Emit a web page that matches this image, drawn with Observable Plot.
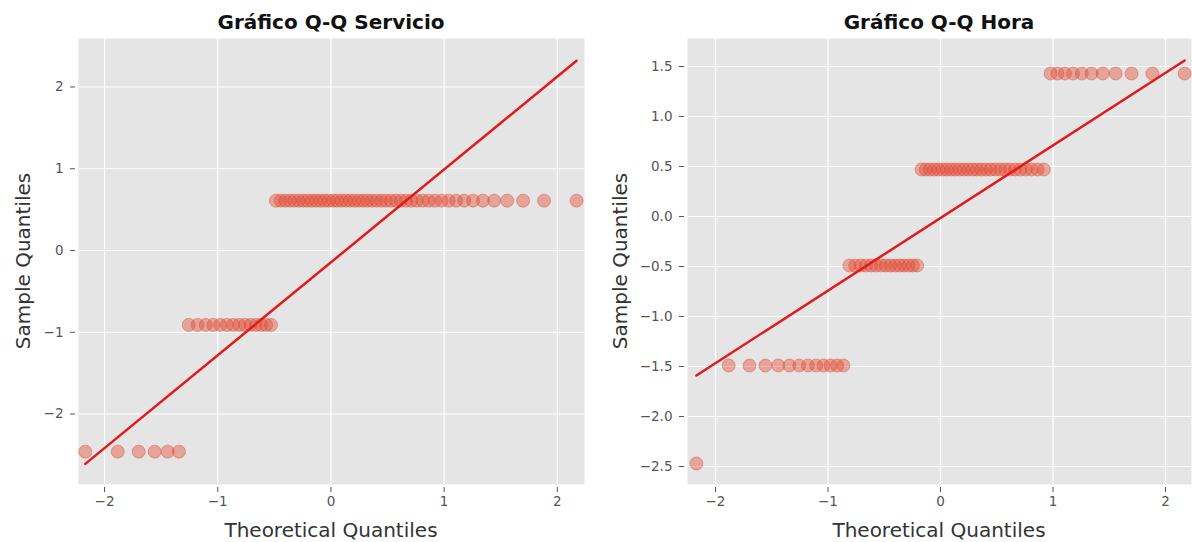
<!DOCTYPE html>
<html>
<head>
<meta charset="utf-8">
<script src="https://cdn.jsdelivr.net/npm/d3@7"></script>
<script src="https://cdn.jsdelivr.net/npm/@observablehq/plot@0.6"></script>
<style>
  body { margin: 0; background: #fff; font-family: "DejaVu Sans", sans-serif; }
  #wrap { position: relative; width: 1192px; height: 542px; display: flex; }
  .panel { position: relative; width: 596px; height: 542px; }
  .panel svg { display: block; }
  .title { position: absolute; top: 10px; line-height: 24px; font-weight: bold; font-size: 20px; color: #111; transform: translateX(-50%); white-space: nowrap; }
  .xlab { position: absolute; top: 518px; line-height: 24px; font-size: 20px; color: #333; transform: translateX(-50%); white-space: nowrap; }
  .ylab { position: absolute; line-height: 24px; font-size: 20px; color: #333; white-space: nowrap; transform: translate(-50%, -50%) rotate(-90deg); }
</style>
</head>
<body>
<div id="wrap">
  <div class="panel" id="p1">
    <div class="title" style="left:331px">Gráfico Q-Q Servicio</div>
    <div class="xlab" style="left:331px">Theoretical Quantiles</div>
    <div class="ylab" style="left:23px; top:261px">Sample Quantiles</div>
  </div>
  <div class="panel" id="p2">
    <div class="title" style="left:343px">Gráfico Q-Q Hora</div>
    <div class="xlab" style="left:343px">Theoretical Quantiles</div>
    <div class="ylab" style="left:24px; top:261px">Sample Quantiles</div>
  </div>
</div>
<script>
// Theoretical quantiles (66 points)
const theoretical = [
  -2.170, -1.883, -1.698, -1.557, -1.442, -1.343, -1.256, -1.178, -1.106, -1.040, -0.978,
  -0.919, -0.863, -0.810, -0.759, -0.710, -0.663, -0.617, -0.573, -0.529, -0.486, -0.445,
  -0.404, -0.363, -0.324, -0.285, -0.246, -0.207, -0.169, -0.131, -0.094, -0.056, -0.019,
   0.019,  0.056,  0.094,  0.131,  0.169,  0.207,  0.246,  0.285,  0.324,  0.363,  0.404,
   0.445,  0.486,  0.529,  0.573,  0.617,  0.663,  0.710,  0.759,  0.810,  0.863,  0.919,
   0.978,  1.040,  1.106,  1.178,  1.256,  1.343,  1.442,  1.557,  1.698,  1.883,  2.170
];

// Sample quantiles – Servicio
const servicioSample = [
  -2.46, -2.46, -2.46, -2.46, -2.46, -2.46,
  -0.91, -0.91, -0.91, -0.91, -0.91, -0.91, -0.91, -0.91, -0.91, -0.91, -0.91, -0.91, -0.91, -0.91,
  0.61, 0.61, 0.61, 0.61, 0.61, 0.61, 0.61, 0.61, 0.61, 0.61, 0.61, 0.61, 0.61, 0.61, 0.61, 0.61,
  0.61, 0.61, 0.61, 0.61, 0.61, 0.61, 0.61, 0.61, 0.61, 0.61, 0.61, 0.61, 0.61, 0.61, 0.61, 0.61,
  0.61, 0.61, 0.61, 0.61, 0.61, 0.61, 0.61, 0.61, 0.61, 0.61, 0.61, 0.61, 0.61, 0.61
];

// Sample quantiles – Hora
const horaSample = [
  -2.47,
  -1.49, -1.49, -1.49, -1.49, -1.49, -1.49, -1.49, -1.49, -1.49, -1.49, -1.49, -1.49,
  -0.49, -0.49, -0.49, -0.49, -0.49, -0.49, -0.49, -0.49, -0.49, -0.49, -0.49, -0.49, -0.49, -0.49, -0.49,
  0.47, 0.47, 0.47, 0.47, 0.47, 0.47, 0.47, 0.47, 0.47, 0.47, 0.47, 0.47, 0.47, 0.47,
  0.47, 0.47, 0.47, 0.47, 0.47, 0.47, 0.47, 0.47, 0.47, 0.47, 0.47, 0.47, 0.47,
  1.43, 1.43, 1.43, 1.43, 1.43, 1.43, 1.43, 1.43, 1.43, 1.43, 1.43
];

// Fitted reference lines (end points)
const lineX = [-2.17, 2.17];
const servicioLineY = [-2.61, 2.32];
const horaLineY = [-1.59, 1.56];

// Tick values
const xTicks = [-2, -1, 0, 1, 2];
const servicioYTicks = [-2, -1, 0, 1, 2];
const horaYTicks = [-2.5, -2.0, -1.5, -1.0, -0.5, 0.0, 0.5, 1.0, 1.5];

function qqPanel({sample, lineY, xDomain, yDomain, yTicks, yFormat, marginLeft, marginRight}) {
  const pts = theoretical.map((v, i) => ({x: v, y: sample[i]}));
  const fit = lineX.map((v, i) => ({x: v, y: lineY[i]}));
  return Plot.plot({
    width: 596,
    height: 542,
    marginTop: 38,
    marginBottom: 58,
    marginLeft,
    marginRight,
    style: {fontFamily: "DejaVu Sans", fontSize: "13.5px", color: "#555", background: "white", overflow: "visible"},
    x: {domain: xDomain},
    y: {domain: yDomain},
    marks: [
      Plot.frame({fill: "#E5E5E5", stroke: "none"}),
      Plot.gridX(xTicks, {stroke: "white", strokeOpacity: 1, strokeWidth: 1.2}),
      Plot.gridY(yTicks, {stroke: "white", strokeOpacity: 1, strokeWidth: 1.2}),
      Plot.axisX(xTicks, {tickSize: 5, tickPadding: 4, dy: 3, label: null, tickFormat: d3.format("d"), stroke: "#555"}),
      Plot.axisY(yTicks, {tickSize: 5, tickPadding: 7, dx: -3, label: null, tickFormat: yFormat, stroke: "#555"}),
      Plot.dot(pts, {x: "x", y: "y", r: 6.5, fill: "#E24A33", fillOpacity: 0.42, stroke: "#E24A33", strokeOpacity: 0.45, strokeWidth: 1}),
      Plot.line(fit, {x: "x", y: "y", stroke: "#E3191B", strokeWidth: 2.5})
    ]
  });
}

document.getElementById("p1").prepend(qqPanel({
  sample: servicioSample,
  lineY: servicioLineY,
  xDomain: [-2.23, 2.24],
  yDomain: [-2.862, 2.593],
  yTicks: servicioYTicks,
  yFormat: d3.format("d"),
  marginLeft: 78,
  marginRight: 12
}));

document.getElementById("p2").prepend(qqPanel({
  sample: horaSample,
  lineY: horaLineY,
  xDomain: [-2.249, 2.231],
  yDomain: [-2.68, 1.78],
  yTicks: horaYTicks,
  yFormat: d3.format(".1f"),
  marginLeft: 91,
  marginRight: 1
}));
</script>
</body>
</html>
